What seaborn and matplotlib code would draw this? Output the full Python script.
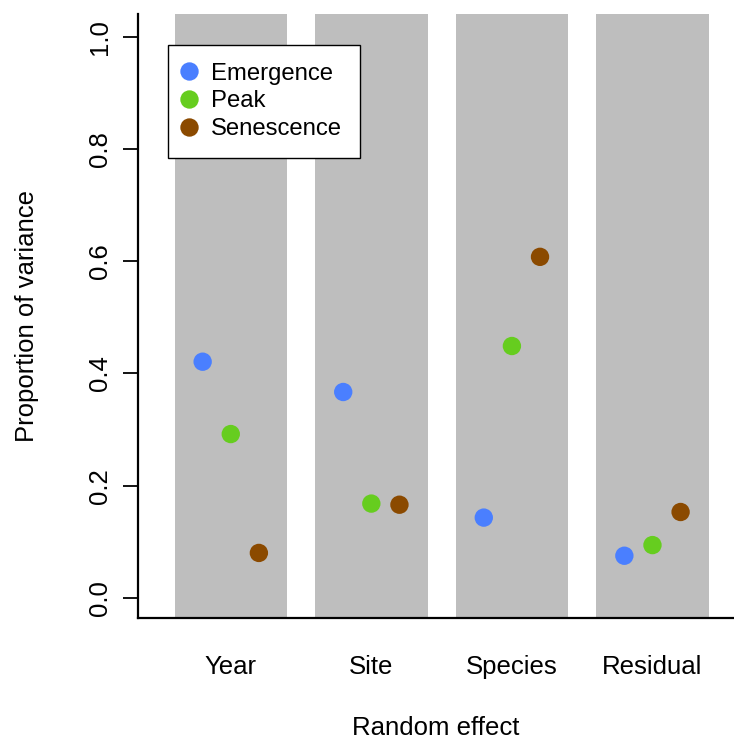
import matplotlib
matplotlib.use("Agg")
import matplotlib.pyplot as plt
import seaborn as sns
import pandas as pd
import numpy as np

effects = ["Year", "Site", "Species", "Residual"]
stages = ["Emergence", "Peak", "Senescence"]
emergence = [0.421, 0.367, 0.143, 0.075]
peak = [0.292, 0.168, 0.449, 0.094]
senescence = [0.080, 0.166, 0.608, 0.153]
colors = ["#4A7FFF", "#66CD1F", "#8B4A00"]
yticks = [0.0, 0.2, 0.4, 0.6, 0.8, 1.0]

sns.set_theme(style="white")
plt.rcParams["font.family"] = ["Liberation Sans", "DejaVu Sans"]
for k in ["text.color", "axes.labelcolor", "xtick.color", "ytick.color"]:
    plt.rcParams[k] = "black"

rows = []
for si, (stage, vals) in enumerate(zip(stages, [emergence, peak, senescence])):
    for ei, v in enumerate(vals):
        rows.append({"effect": effects[ei], "stage": stage, "value": v,
                     "pos": ei + (si - 1) * 0.2})
df = pd.DataFrame(rows)

fig = plt.figure(figsize=(7.34, 7.46), dpi=100)
ax = fig.add_axes([0.188, 0.1716, 0.812, 0.8096])

for i in range(len(effects)):
    ax.axvspan(i - 0.4, i + 0.4, color="#BEBEBE", lw=0, zorder=0)

sns.scatterplot(data=df, x="pos", y="value", hue="stage", hue_order=stages,
                palette=colors, s=175, edgecolor="none", ax=ax, zorder=3)

ax.set_xlim(-0.66, 3.58)
ax.set_ylim(-0.036, 1.041)
ax.set_xticks(range(len(effects)))
ax.set_xticklabels(effects, fontsize=18.5)
ax.set_yticks(yticks)
ax.set_yticklabels([f"{t:.1f}" for t in yticks], fontsize=18.5, rotation=90, va="center")
ax.tick_params(axis="y", length=11, width=1.3, pad=8, left=True, color="black")
ax.tick_params(axis="x", length=0, pad=27)
ax.set_xlabel("Random effect", fontsize=18.5, labelpad=26)
ax.set_ylabel("Proportion of variance", fontsize=18.5, labelpad=35)

for s in ["top", "right"]:
    ax.spines[s].set_visible(False)
for s in ["left", "bottom"]:
    ax.spines[s].set_color("black")
    ax.spines[s].set_linewidth(1.6)

leg = ax.legend(loc="upper left", bbox_to_anchor=(0.05, 0.949), fontsize=17.2,
                frameon=True, fancybox=False, edgecolor="black", framealpha=1,
                handletextpad=0.75, borderpad=0.75, labelspacing=0.24, markerscale=1.0,
                handlelength=0.3, borderaxespad=0)
leg.get_frame().set_linewidth(1.0)

fig.savefig("out.png", dpi=100)
